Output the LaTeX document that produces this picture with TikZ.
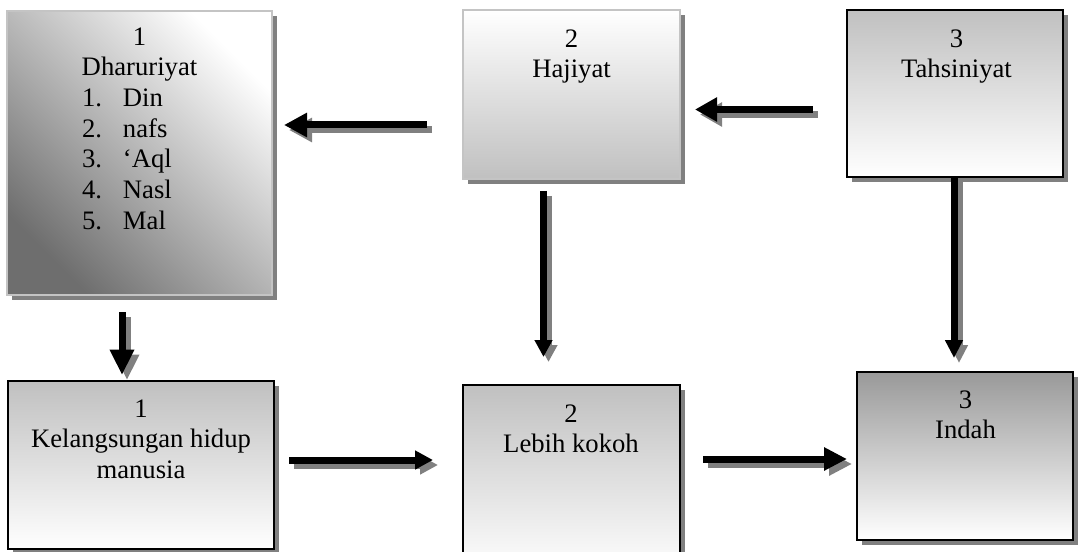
\documentclass[tikz,border=0pt]{standalone}
\usepackage{fontspec}
\setmainfont{Liberation Serif}
\usetikzlibrary{arrows.meta,shadows}

\definecolor{shadowgray}{HTML}{808080}
\definecolor{softgray}{HTML}{C0C0C0}
\definecolor{midgray}{HTML}{999999}
\definecolor{darkgray}{HTML}{6E6E6E}
\definecolor{edgegray}{HTML}{C4C4C4}

% block arrow with a grey drop shadow: start, end, head width, head length
\newcommand\blockarrow[4]{%
  \draw[arrshade, -{Triangle[width=#3, length=#4]}] ([shift={(5,5)}]#1) -- ([shift={(5,5)}]#2);
  \draw[arrbody, -{Triangle[width=#3, length=#4]}] (#1) -- (#2);}

\begin{document}
\begin{tikzpicture}[x=0.75pt, y=-0.75pt,
  box/.style={rectangle, inner sep=0pt, line width=0.9pt,
    drop shadow={shadow xshift=3.75pt, shadow yshift=-3.75pt, opacity=1, fill=shadowgray}},
  lightbox/.style={box, draw=edgegray, line width=0.8pt},
  darkbox/.style={box, draw=black},
  lbl/.style={anchor=north, inner sep=0pt, align=center, text=black,
    font=\fontsize{20}{23}\selectfont},
  arrbody/.style={draw=black, line width=5.25pt},
  arrshade/.style={draw=shadowgray, line width=5.25pt},
  item/.style={}]

\useasboundingbox (0,0) rectangle (1081,552);
\clip (0,0) rectangle (1081,552);
\fill[white] (0,0) rectangle (1081,552);

% upper row
\node[lightbox, minimum width=198.75pt, minimum height=213pt,
  top color=white, bottom color=darkgray, shading angle=-45] (dhar) at (139.5,153) {};
\node[lightbox, minimum width=162.75pt, minimum height=126.75pt,
  top color=white, bottom color=softgray] (haji) at (571.5,94.5) {};
\node[darkbox, minimum width=162pt, minimum height=125.25pt,
  top color=softgray, bottom color=white] (tahs) at (955,93.5) {};

% lower row
\node[darkbox, minimum width=199.5pt, minimum height=126pt,
  top color=softgray, bottom color=white] (kel) at (141,465) {};
\node[darkbox, minimum width=162.75pt, minimum height=142.5pt,
  top color=softgray, bottom color=white] (kokoh) at (571.5,480) {};
\node[darkbox, minimum width=162pt, minimum height=126pt,
  top color=midgray, bottom color=white] (indah) at (965,456) {};

% texts
\newcommand\listline[2]{\makebox[86.25pt][l]{\makebox[30.75pt][l]{#1}#2}}
\node[lbl] (dhar-t) at (139.5,23.5) {\strut 1\\Dharuriyat\\
  \listline{1.}{Din}\\\listline{2.}{nafs}\\\listline{3.}{‘Aql}\\
  \listline{4.}{Nasl}\\\listline{5.}{Mal}};
\node[lbl] (haji-t) at (571.5,25.5) {\strut 2\\Hajiyat};
\node[lbl] (tahs-t) at (956.5,25.5) {\strut 3\\Tahsiniyat};
\node[lbl] (kel-t) at (141,395.5) {\strut 1\\Kelangsungan hidup\\manusia};
\node[lbl] (kokoh-t) at (571,400.5) {\strut 2\\Lebih kokoh};
\node[lbl] (indah-t) at (965.5,386.5) {\strut 3\\Indah};

% arrow ends
\coordinate (a1s) at (427,125);  \coordinate (a1e) at (284,125);
\coordinate (a2s) at (813,109.5);\coordinate (a2e) at (695,109.5);
\coordinate (a3s) at (954,177);  \coordinate (a3e) at (954,358);
\coordinate (a4s) at (543.5,191);\coordinate (a4e) at (543.5,357);
\coordinate (a5s) at (122,312);  \coordinate (a5e) at (122,375);
\coordinate (a6s) at (289,460);  \coordinate (a6e) at (433,460);
\coordinate (a7s) at (703,459);  \coordinate (a7e) at (847,459);

\blockarrow{a1s}{a1e}{17.25pt}{17.25pt}
\blockarrow{a2s}{a2e}{17.25pt}{16.5pt}
\blockarrow{a3s}{a3e}{12.75pt}{13.5pt}
\blockarrow{a4s}{a4e}{12.75pt}{12.75pt}
\blockarrow{a5s}{a5e}{17.25pt}{19pt}
\blockarrow{a6s}{a6e}{13.5pt}{13.5pt}
\blockarrow{a7s}{a7e}{16.5pt}{17.25pt}

\end{tikzpicture}
\end{document}
